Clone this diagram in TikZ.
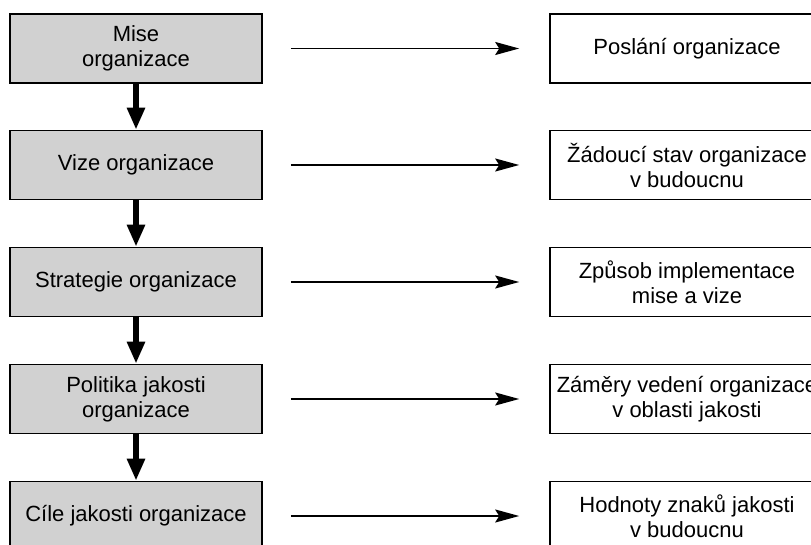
\documentclass[tikz,border=0pt]{standalone}
\usepackage{fontspec}
\setmainfont{Liberation Sans}
\usetikzlibrary{arrows.meta}
\tikzset{
  stupen/.style={draw=black, line width=1.6pt, fill=black!18, minimum width=252pt, minimum height=69pt, inner sep=0pt, align=center, font=\fontsize{22}{25}\selectfont},
  popis/.style={draw=black, line width=1.6pt, fill=white, minimum width=274pt, minimum height=69pt, inner sep=0pt, align=center, font=\fontsize{22}{25}\selectfont},
  vazba/.style={line width=1.8pt, -{Stealth[length=24pt, width=13pt, inset=4pt]}, shorten <=28pt, shorten >=30pt},
  tok/.style={line width=6pt, -{Triangle[length=22pt, width=17pt]}}
}

\begin{document}
\begin{tikzpicture}[x=1pt, y=-1pt]
\useasboundingbox (0,0) rectangle (811,545);
\clip (0,0) rectangle (811,545);
\node[stupen] (mise) at (136,48.5) {Mise\\organizace};
\node[stupen] (vize) at (136,165) {Vize organizace};
\node[stupen] (strategie) at (136,282) {Strategie organizace};
\node[stupen] (politika) at (136,399) {Politika jakosti\\organizace};
\node[stupen] (cile) at (136,516) {Cíle jakosti organizace};
\node[popis] (poslani) at (687,48.5) {Poslání organizace};
\node[popis] (stav) at (687,165) {Žádoucí stav organizace\\v budoucnu};
\node[popis] (zpusob) at (687,282) {Způsob implementace\\mise a vize};
\node[popis] (zamery) at (687,399) {Záměry vedení organizace\\v oblasti jakosti};
\node[popis] (hodnoty) at (687,516) {Hodnoty znaků jakosti\\v budoucnu};
\foreach \a/\b in {mise/vize, vize/strategie, strategie/politika, politika/cile}
  \draw[tok] (\a.south) -- (\b.north);
\foreach \a/\b in {mise/poslani, vize/stav, strategie/zpusob, politika/zamery, cile/hodnoty}
  \draw[vazba] (\a.east) -- (\b.west);
\end{tikzpicture}
\end{document}
